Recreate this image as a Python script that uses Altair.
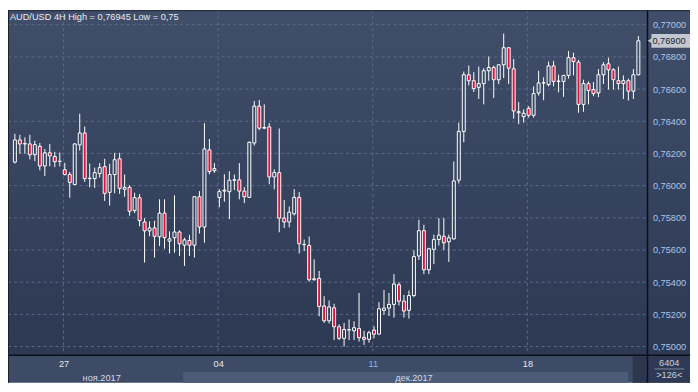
import altair as alt
import pandas as pd

# ---------------- data ----------------
opens = [0.76146, 0.76284, 0.76259, 0.76259, 0.76192, 0.76244, 0.76122, 0.76204, 0.76181, 0.76150,
         0.76099, 0.76069, 0.76007, 0.76253, 0.76327, 0.76044, 0.76044, 0.76075, 0.76118, 0.75958,
         0.76069, 0.76167, 0.75977, 0.75989, 0.75845, 0.75925, 0.75774, 0.75719, 0.75737, 0.75682,
         0.75829, 0.75655, 0.75676, 0.75712, 0.75630, 0.75659, 0.75630, 0.75931, 0.75743, 0.76222,
         0.76093, 0.75926, 0.75966, 0.75962, 0.76034, 0.76036, 0.75966, 0.75927, 0.76265, 0.76494,
         0.76357, 0.76365, 0.76054, 0.76081, 0.75798, 0.75774, 0.75825, 0.75927, 0.75635, 0.75628,
         0.75415, 0.75424, 0.75252, 0.75160, 0.75241, 0.75123, 0.75051, 0.75106, 0.75098, 0.75112,
         0.75057, 0.75045, 0.75102, 0.75077, 0.75225, 0.75239, 0.75262, 0.75384, 0.75282, 0.75225,
         0.75317, 0.75563, 0.75720, 0.75477, 0.75604, 0.75665, 0.75685, 0.75651, 0.75669, 0.76034,
         0.76337, 0.76689, 0.76652, 0.76611, 0.76634, 0.76714, 0.76734, 0.76658, 0.76751, 0.76857,
         0.76726, 0.76460, 0.76429, 0.76480, 0.76437, 0.76576, 0.76638, 0.76628, 0.76744, 0.76648,
         0.76648, 0.76685, 0.76795, 0.76767, 0.76505, 0.76634, 0.76597, 0.76576, 0.76689, 0.76757,
         0.76720, 0.76652, 0.76634, 0.76652, 0.76587, 0.76689]
highs = [0.76322, 0.76316, 0.76300, 0.76316, 0.76279, 0.76265, 0.76228, 0.76259, 0.76210, 0.76206,
         0.76142, 0.76085, 0.76265, 0.76447, 0.76367, 0.76138, 0.76112, 0.76140, 0.76167, 0.76136,
         0.76204, 0.76204, 0.76069, 0.76003, 0.75956, 0.75948, 0.75798, 0.75778, 0.75782, 0.75915,
         0.75915, 0.75716, 0.75940, 0.75722, 0.75676, 0.75694, 0.75935, 0.75966, 0.76388, 0.76290,
         0.76140, 0.75977, 0.76071, 0.76089, 0.76069, 0.76140, 0.75991, 0.76275, 0.76525, 0.76531,
         0.76505, 0.76388, 0.76101, 0.76355, 0.75911, 0.75870, 0.75978, 0.75960, 0.75665, 0.75684,
         0.75542, 0.75470, 0.75313, 0.75286, 0.75266, 0.75139, 0.75147, 0.75168, 0.75157, 0.75333,
         0.75098, 0.75098, 0.75126, 0.75276, 0.75352, 0.75333, 0.75450, 0.75399, 0.75321, 0.75348,
         0.75598, 0.75788, 0.75757, 0.75614, 0.75696, 0.75798, 0.75798, 0.75696, 0.76150, 0.76392,
         0.76709, 0.76746, 0.76705, 0.76740, 0.76730, 0.76802, 0.76746, 0.76754, 0.76945, 0.76860,
         0.76787, 0.76519, 0.76474, 0.76494, 0.76617, 0.76714, 0.76673, 0.76771, 0.76775, 0.76689,
         0.76688, 0.76837, 0.76826, 0.76781, 0.76658, 0.76648, 0.76644, 0.76724, 0.76767, 0.76795,
         0.76730, 0.76740, 0.76685, 0.76665, 0.76724, 0.76929]
lows = [0.76138, 0.76198, 0.76198, 0.76163, 0.76152, 0.76095, 0.76060, 0.76120, 0.76115, 0.76120,
        0.76063, 0.75925, 0.76003, 0.76218, 0.76023, 0.75990, 0.75986, 0.76050, 0.75905, 0.75876,
        0.75952, 0.75948, 0.75931, 0.75813, 0.75829, 0.75747, 0.75522, 0.75685, 0.75553, 0.75624,
        0.75608, 0.75579, 0.75583, 0.75563, 0.75501, 0.75563, 0.75553, 0.75702, 0.75645, 0.76071,
        0.76079, 0.75866, 0.75900, 0.75792, 0.75972, 0.75915, 0.75891, 0.75925, 0.76249, 0.76345,
        0.76351, 0.76009, 0.75977, 0.75710, 0.75737, 0.75741, 0.75814, 0.75579, 0.75593, 0.75403,
        0.75410, 0.75188, 0.75147, 0.75143, 0.75040, 0.75040, 0.75000, 0.75040, 0.75040, 0.75031,
        0.75010, 0.75024, 0.75051, 0.75075, 0.75198, 0.75190, 0.75180, 0.75255, 0.75180, 0.75174,
        0.75307, 0.75538, 0.75450, 0.75450, 0.75512, 0.75628, 0.75599, 0.75526, 0.75665, 0.76013,
        0.76269, 0.76623, 0.76582, 0.76539, 0.76505, 0.76652, 0.76545, 0.76631, 0.76668, 0.76631,
        0.76416, 0.76382, 0.76392, 0.76423, 0.76423, 0.76560, 0.76531, 0.76617, 0.76617, 0.76580,
        0.76552, 0.76665, 0.76685, 0.76453, 0.76459, 0.76505, 0.76556, 0.76550, 0.76631, 0.76597,
        0.76597, 0.76597, 0.76539, 0.76529, 0.76539, 0.76685]
closes = [0.76284, 0.76259, 0.76262, 0.76192, 0.76255, 0.76122, 0.76204, 0.76185, 0.76149, 0.76152,
          0.76069, 0.76020, 0.76259, 0.76327, 0.76044, 0.76046, 0.76081, 0.76112, 0.75952, 0.76069,
          0.76161, 0.75983, 0.75989, 0.75841, 0.75925, 0.75782, 0.75719, 0.75737, 0.75685, 0.75829,
          0.75677, 0.75669, 0.75712, 0.75639, 0.75663, 0.75630, 0.75931, 0.75743, 0.76228, 0.76087,
          0.76106, 0.75963, 0.75972, 0.76034, 0.76036, 0.75966, 0.75931, 0.76269, 0.76494, 0.76357,
          0.76361, 0.76054, 0.76081, 0.75798, 0.75774, 0.75835, 0.75927, 0.75639, 0.75633, 0.75415,
          0.75421, 0.75249, 0.75160, 0.75246, 0.75123, 0.75051, 0.75106, 0.75102, 0.75117, 0.75055,
          0.75045, 0.75086, 0.75077, 0.75235, 0.75239, 0.75262, 0.75389, 0.75282, 0.75221, 0.75317,
          0.75559, 0.75720, 0.75477, 0.75608, 0.75665, 0.75692, 0.75645, 0.75676, 0.76029, 0.76337,
          0.76689, 0.76652, 0.76603, 0.76634, 0.76714, 0.76734, 0.76658, 0.76751, 0.76857, 0.76730,
          0.76464, 0.76453, 0.76450, 0.76437, 0.76572, 0.76638, 0.76640, 0.76744, 0.76648, 0.76650,
          0.76685, 0.76795, 0.76771, 0.76505, 0.76634, 0.76591, 0.76572, 0.76689, 0.76751, 0.76720,
          0.76658, 0.76634, 0.76652, 0.76587, 0.76689, 0.76900]

week_pos = [9.75, 40.75, 71.75, 102.75]
week_labels = ["27", "04", "11", "18"]
price_ticks = [0.750, 0.752, 0.754, 0.756, 0.758, 0.760, 0.762, 0.764, 0.766, 0.768, 0.770]
month_pos = [17.4, 80.0]
month_labels = ["ноя.2017", "дек.2017"]
dec_start = 33.75
last_price = [0.769]
last_label = ["0,76900"]
title_text = "AUD/USD 4H High = 0,76945 Low = 0,75"
bars_total = "6404"
bars_shown = ">126<"

# ---------------- frame ----------------
df = pd.DataFrame({"o": opens, "h": highs, "l": lows, "c": closes})
df["i"] = range(len(df))
df["top"] = df[["o", "c"]].max(axis=1)
df["bot"] = df[["o", "c"]].min(axis=1)
df["up"] = df["c"] >= df["o"]

W, H = 647, 349
RIGHT = 690
FONT = "Liberation Sans"
FS = 9.3

xs = alt.Scale(domain=[-0.39, 125.84], nice=False, zero=False)
ys = alt.Scale(domain=[0.749466, 0.770903], nice=False, zero=False)

lab_expr = " : ".join(f"abs(datum.value - {p}) < 1 ? '{l}'" for p, l in zip(week_pos, week_labels)) + " : ''"
x_axis = alt.Axis(values=week_pos, labelExpr=lab_expr, grid=False, ticks=False, domain=False,
                  labelPadding=4, labelFont=FONT, labelFontSize=FS,
                  labelColor={"expr": "abs(datum.value - 71.75) < 1 ? '#8ab6f0' : '#e4e9f0'"},
                  labelFlush=False, labelOverlap=False, title=None, zindex=2)
y_axis = alt.Axis(orient="right", values=price_ticks,
                  labelExpr="replace(format(datum.value, '.5f'), '.', ',')",
                  grid=False, ticks=False, domain=False, labelPadding=5, labelFont=FONT,
                  labelFontSize=FS, labelColor="#a9c6ee", labelOverlap=False, labelFlush=False,
                  title=None, zindex=2)

X = lambda f: alt.X(f, type="quantitative", scale=xs, axis=x_axis)
Y = lambda f: alt.Y(f, type="quantitative", scale=ys, axis=y_axis)

one = pd.DataFrame({"a": [0]})

bg = alt.Chart(one).mark_rect(
    fill=alt.Gradient(gradient="linear", x1=0, x2=0, y1=0, y2=1,
                      stops=[alt.GradientStop(color="#404e6a", offset=0),
                             alt.GradientStop(color="#2d3953", offset=1)])
).encode(x=alt.value(0), x2=alt.value(RIGHT), y=alt.value(0), y2=alt.value(H))

band1 = alt.Chart(one).mark_rect(color="#3e4b66").encode(
    x=alt.value(0), x2=alt.value(RIGHT), y=alt.value(H), y2=alt.value(366))
band2 = alt.Chart(one).mark_rect(color="#3e4b66").encode(
    x=alt.value(0), x2=alt.value(RIGHT), y=alt.value(366), y2=alt.value(377))
decband = alt.Chart(pd.DataFrame({"s": [dec_start], "e": [122.9]})).mark_rect(color="#4c5b77").encode(
    x=X("s"), x2="e", y=alt.value(366), y2=alt.value(377))
darkcol = alt.Chart(one).mark_rect(color="#2c374f").encode(
    x=alt.value(632), x2=alt.value(W), y=alt.value(H + 1), y2=alt.value(377))
rbox = alt.Chart(one).mark_rect(color="#2e3a55").encode(
    x=alt.value(W), x2=alt.value(RIGHT), y=alt.value(H), y2=alt.value(377))

hgrid = alt.Chart(pd.DataFrame({"p": price_ticks})).mark_rule(
    color="#5b6a88", strokeDash=[3, 3], strokeWidth=1).encode(
    y=Y("p"), x=alt.value(0), x2=alt.value(W))
vgrid = alt.Chart(pd.DataFrame({"w": week_pos})).mark_rule(
    color="#5b6a88", strokeDash=[3, 3], strokeWidth=1).encode(
    x=X("w"), y=alt.value(0), y2=alt.value(H))

base = alt.Chart(df)
wick_hi = base.mark_rule(color="#ffffff", strokeWidth=1).encode(x=X("i"), y=Y("h"), y2="top")
wick_lo = base.mark_rule(color="#ffffff", strokeWidth=1).encode(x=X("i"), y=Y("bot"), y2="l")
body_up = base.transform_filter("datum.up").mark_bar(
    size=3, fillOpacity=0, stroke="#ffffff", strokeWidth=1).encode(x=X("i"), y=Y("o"), y2="c")
body_dn = base.transform_filter("!datum.up").mark_bar(
    size=3, fill="#e3123c", stroke="#ffffff", strokeWidth=1).encode(x=X("i"), y=Y("o"), y2="c")

vline = alt.Chart(one).mark_rule(color="#0b0f18", strokeWidth=1.5).encode(
    x=alt.value(W), y=alt.value(0), y2=alt.value(377))
hline = alt.Chart(one).mark_rule(color="#0b0f18", strokeWidth=1.5).encode(
    y=alt.value(H), x=alt.value(0), x2=alt.value(RIGHT))
topline = alt.Chart(one).mark_rule(color="#1a2030", strokeWidth=1).encode(
    y=alt.value(0.5), x=alt.value(0), x2=alt.value(RIGHT))
leftline = alt.Chart(one).mark_rule(color="#1a2030", strokeWidth=1).encode(
    x=alt.value(0.5), y=alt.value(0), y2=alt.value(377))
sep = alt.Chart(one).mark_rule(color="#7d8aa2", strokeWidth=1).encode(
    y=alt.value(363), x=alt.value(654), x2=alt.value(684))

title = alt.Chart(pd.DataFrame({"t": [title_text]})).mark_text(
    align="left", baseline="middle", font=FONT, fontSize=FS, color="#e8ecf2").encode(
    x=alt.value(2), y=alt.value(7), text="t")

months = alt.Chart(pd.DataFrame({"p": month_pos, "t": month_labels})).mark_text(
    align="center", baseline="middle", font=FONT, fontSize=FS, color="#d4dae4").encode(
    x=X("p"), y=alt.value(372), text="t")

cnt = alt.Chart(pd.DataFrame({"t": [bars_total, bars_shown], "yy": [357, 369]})).mark_text(
    align="center", baseline="middle", font=FONT, fontSize=FS, color="#c9d1dd").encode(
    x=alt.value(669), y=alt.Y("yy:Q", scale=None), text="t")

lp = pd.DataFrame({"p": last_price, "t": last_label})
pbox = alt.Chart(lp).mark_rect(color="#c3c7cf", yOffset=-7, y2Offset=7).encode(
    x=alt.value(651), x2=alt.value(RIGHT), y=Y("p"), y2="p")
ptri = alt.Chart(lp).mark_point(shape="triangle-left", filled=True, size=45, color="#c3c7cf",
                               opacity=1).encode(x=alt.value(650), y=Y("p"))
ptxt = alt.Chart(lp).mark_text(align="left", baseline="middle", font=FONT, fontSize=FS,
                              color="#1b2130").encode(x=alt.value(652), y=Y("p"), text="t")

chart = alt.layer(
    bg, band1, band2, decband, darkcol, rbox, hgrid, vgrid,
    wick_hi, wick_lo, body_up, body_dn, vline, hline, topline, leftline, sep,
    title, months, cnt, pbox, ptri, ptxt
).properties(
    width=W, height=H,
    autosize=alt.AutoSizeParams(type="none"),
    padding={"left": 0, "top": 0, "right": RIGHT - W, "bottom": 28},
).configure_view(stroke=None)

chart.save("out.html", embed_options={"renderer": "svg", "actions": False})
